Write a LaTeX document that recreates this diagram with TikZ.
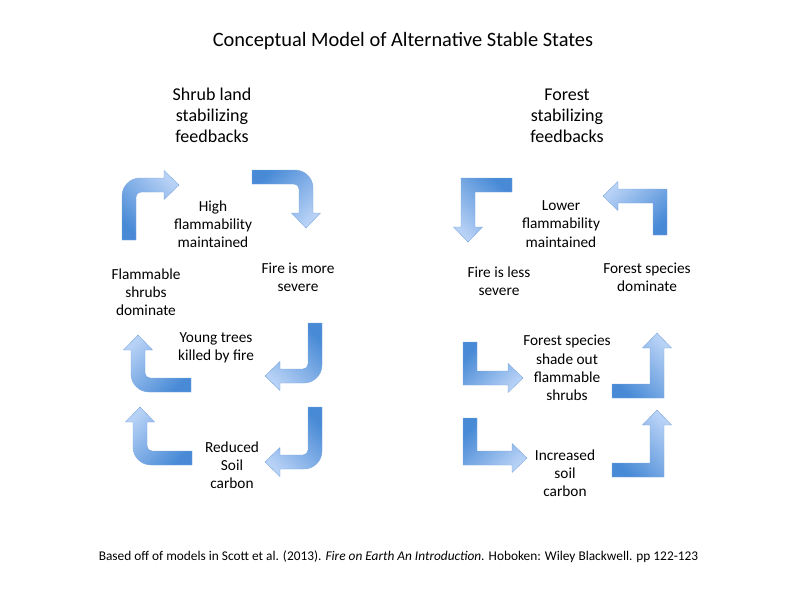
\documentclass[tikz,border=0pt]{standalone}
\usepackage{fontspec}
\setmainfont{Carlito}
\definecolor{arrlite}{RGB}{184,210,246}
\definecolor{arrdark}{RGB}{72,138,214}
\definecolor{arredge}{RGB}{125,168,224}
\def\arrW{14}\def\arrH{29}\def\arrL{15}
\tikzset{
  barr/.style={top color=arrlite, bottom color=arrdark, draw=arredge, line width=0.3pt, line join=round},
  txt/.style={font=\fontsize{11.5}{13.7}\selectfont, align=center, inner sep=0pt},
  head/.style={font=\fontsize{13.5}{15.8}\selectfont, align=center, inner sep=0pt},
}
% #1 options, #2 first leg, #3 second leg (to tip), #4 outer radius, #5 inner radius
\newcommand{\barrow}[5]{%
  \path[barr,#1] (0,#2) -- (0,#4) .. controls (0,{0.448*#4}) and ({0.448*#4},0) .. (#4,0)
    -- ({#3-\arrL},0) -- ({#3-\arrL},{(\arrW-\arrH)/2}) -- (#3,{\arrW/2})
    -- ({#3-\arrL},{(\arrW+\arrH)/2}) -- ({#3-\arrL},\arrW) -- ({\arrW+#5},\arrW)
    .. controls ({\arrW+0.448*#5},\arrW) and (\arrW,{\arrW+0.448*#5}) .. (\arrW,{\arrW+#5})
    -- (\arrW,#2) -- cycle;}
\begin{document}
\begin{tikzpicture}[x=0.75pt,y=-0.75pt]
\useasboundingbox (0,0) rectangle (799,592);

\node[inner sep=0pt, font=\fontsize{15.3}{18}\selectfont] (title) at (403,41) {Conceptual Model of Alternative Stable States};

% left cluster
\node[head] (lh) at (212,115) {Shrub land\\stabilizing\\feedbacks};
\node[txt] (l1) at (213,224) {High\\flammability\\maintained};
\node[txt] (l2) at (146,292) {Flammable\\shrubs\\dominate};
\node[txt] (l3) at (298,277) {Fire is more\\severe};
\node[txt] (l4) at (216,348) {Young trees\\killed by fire};
\node[txt] (l5) at (232,465) {Reduced\\Soil\\carbon};

\barrow{shift={(122,178)}, shading angle=-45}{62}{57}{18}{5}
\barrow{shift={(313,170)}, rotate=-90, shading angle=-135}{61}{58}{18}{5}
\barrow{shift={(322,383)}, rotate=180, shading angle=135}{60}{57}{18}{5}
\barrow{shift={(131,392)}, rotate=90, shading angle=45}{60}{57}{18}{5}
\barrow{shift={(322,469)}, rotate=180, shading angle=135}{62}{57}{18}{5}
\barrow{shift={(133,465)}, rotate=90, shading angle=45}{59}{58}{18}{5}

% right cluster
\node[head] (rh) at (567,116) {Forest\\stabilizing\\feedbacks};
\node[txt] (r1) at (561,224) {Lower\\flammability\\maintained};
\node[txt] (r2) at (499,281) {Fire is less\\severe};
\node[txt] (r3) at (647,277) {Forest species\\dominate};
\node[txt] (r4) at (567,368) {Forest species\\shade out\\flammable\\shrubs};
\node[txt] (r5) at (565,473) {Increased\\soil\\carbon};

\barrow{shift={(461,178)}, rotate=90, xscale=-1, shading angle=135}{51}{64}{0}{0}
\barrow{shift={(667,189)}, xscale=-1, shading angle=45}{46}{64}{0}{0}
\barrow{shift={(463,385)}, rotate=180, xscale=-1, shading angle=-135}{43}{60}{0}{0}
\barrow{shift={(664,398)}, rotate=-90, xscale=-1, shading angle=-45}{52}{65}{0}{0}
\barrow{shift={(463,465)}, rotate=180, xscale=-1, shading angle=-135}{47}{64}{0}{0}
\barrow{shift={(664,477)}, rotate=-90, xscale=-1, shading angle=-45}{52}{67}{0}{0}

\node[inner sep=0pt, font=\fontsize{10}{12}\selectfont] (foot) at (398.5,557) {Based off of models in Scott et al. (2013). \textit{Fire on Earth An Introduction.} Hoboken: Wiley Blackwell. pp 122-123};
\end{tikzpicture}
\end{document}
